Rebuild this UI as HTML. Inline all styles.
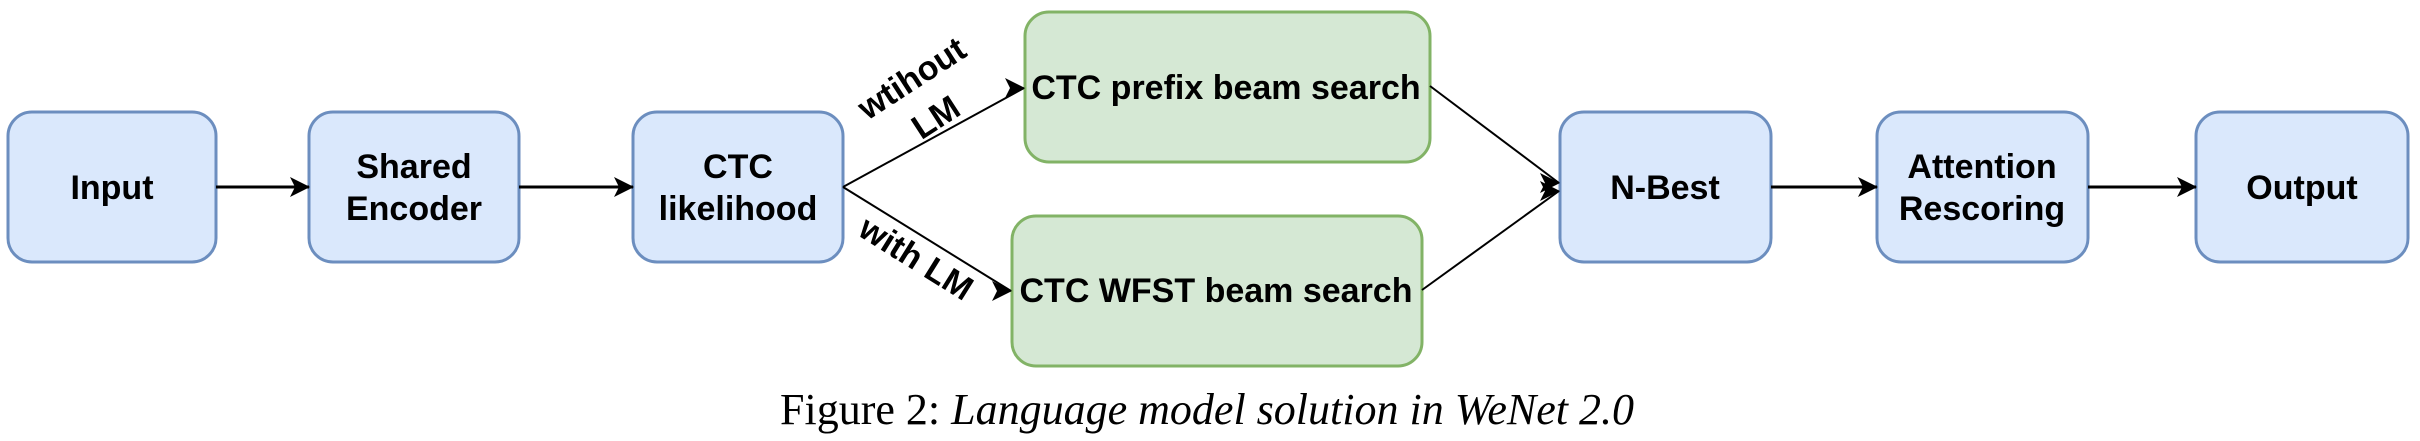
<!DOCTYPE html>
<html><head><meta charset="utf-8"><style>
html,body{margin:0;padding:0;background:#fff;}
svg{display:block;}
text{font-family:"Liberation Sans",Arial,sans-serif;font-weight:bold;font-size:34px;fill:#000;}
.cap{font-family:"Liberation Serif",serif;font-weight:normal;font-size:44px;}
</style></head><body>
<svg width="2420" height="441" viewBox="0 0 2420 441" xmlns="http://www.w3.org/2000/svg">
<defs>
<marker id="ah2" viewBox="0 0 20 20" refX="19" refY="10" markerWidth="20" markerHeight="20" markerUnits="userSpaceOnUse"><path d="M0,0 L20,10 L0,20 L5,10 Z" fill="#000"/></marker></defs>
<g stroke="#6c8ebf" stroke-width="3" fill="#dae8fc">
<rect x="8" y="112" width="208" height="150" rx="24"/>
<rect x="309" y="112" width="210" height="150" rx="24"/>
<rect x="633" y="112" width="210" height="150" rx="24"/>
<rect x="1560" y="112" width="211" height="150" rx="24"/>
<rect x="1877" y="112" width="211" height="150" rx="24"/>
<rect x="2196" y="112" width="212" height="150" rx="24"/>
</g>
<g stroke="#82b366" stroke-width="3" fill="#d5e8d4">
<rect x="1025" y="12" width="405" height="150" rx="24"/>
<rect x="1012" y="216" width="410" height="150" rx="24"/>
</g>
<g stroke="#000" stroke-width="3" fill="none">
<line x1="216" y1="187" x2="309" y2="187" marker-end="url(#ah2)"/>
<line x1="519" y1="187" x2="633" y2="187" marker-end="url(#ah2)"/>
<line x1="1771" y1="187" x2="1877" y2="187" marker-end="url(#ah2)"/>
<line x1="2088" y1="187" x2="2196" y2="187" marker-end="url(#ah2)"/>
</g>
<g stroke="#000" stroke-width="2" fill="none">
<line x1="843" y1="187" x2="1024" y2="88" marker-end="url(#ah2)"/>
<line x1="843" y1="187" x2="1011" y2="291" marker-end="url(#ah2)"/>
<line x1="1430" y1="86" x2="1559" y2="183" marker-end="url(#ah2)"/>
<line x1="1422" y1="290" x2="1559" y2="191" marker-end="url(#ah2)"/>
</g>
<g text-anchor="middle">
<text x="112" y="199">Input</text>
<text x="414" y="178">Shared</text>
<text x="414" y="220">Encoder</text>
<text x="738" y="178">CTC</text>
<text x="738" y="220">likelihood</text>
<text x="1226" y="99">CTC prefix beam search</text>
<text x="1216" y="302">CTC WFST beam search</text>
<text x="1665" y="199">N-Best</text>
<text x="1982" y="178">Attention</text>
<text x="1982" y="220">Rescoring</text>
<text x="2302" y="199">Output</text>
<text transform="translate(918,88) rotate(-33)">wtihout</text>
<text transform="translate(942,127) rotate(-33)">LM</text>
<text transform="translate(910,268) rotate(32)">with LM</text>
<text class="cap" x="1207" y="424"><tspan>Figure 2: </tspan><tspan font-style="italic">Language model solution in WeNet 2.0</tspan></text>
</g>
</svg>
</body></html>
